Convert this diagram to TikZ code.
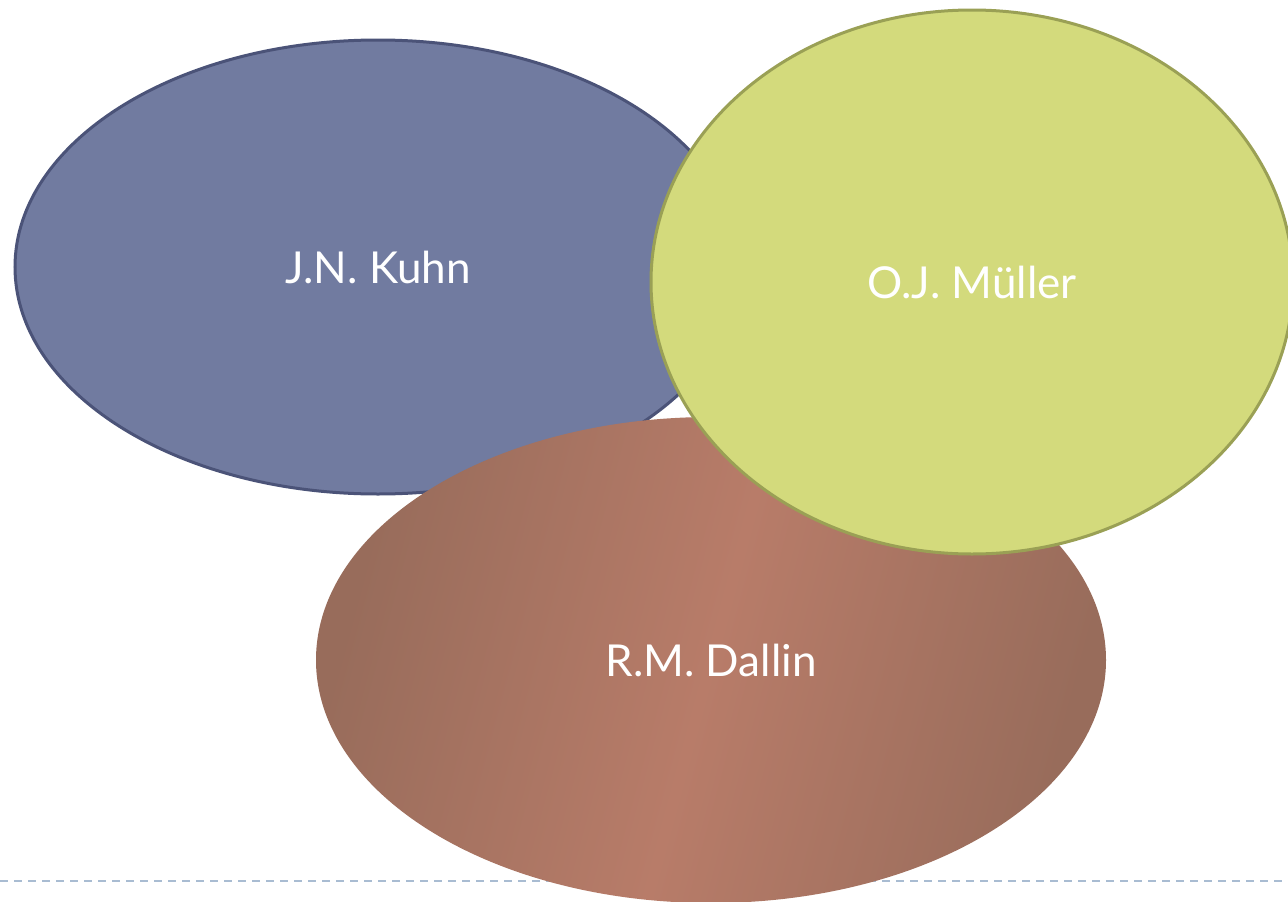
\documentclass[tikz,border=0pt]{standalone}
\usepackage{fontspec}
\setmainfont{Lato}
\usetikzlibrary{shapes.geometric}

\definecolor{kuhnfill}{RGB}{113,123,160}
\definecolor{kuhnline}{RGB}{75,83,120}
\definecolor{muellerfill}{RGB}{211,218,124}
\definecolor{muellerline}{RGB}{154,160,85}
\definecolor{dallinedge}{RGB}{152,108,91}
\definecolor{dallinmid}{RGB}{184,124,105}
\definecolor{footline}{RGB}{169,188,210}

\tikzset{every picture/.style={line width=0.75pt}}
\tikzset{
  person/.style={ellipse, inner sep=0pt, text=white, font=\fontsize{44}{52}\selectfont},
}

\begin{document}
\begin{tikzpicture}[x=1pt,y=1pt,yscale=-1,xscale=1]
\useasboundingbox (0,0) rectangle (1288,902);

% Dashed base line
\draw [color=footline, line width=2pt, dash pattern=on 8pt off 6pt] (0,881) -- (1288,881) ;

% Ellipse J.N. Kuhn
\node (kuhn) [person, draw=kuhnline, fill=kuhnfill, line width=3pt, minimum width=726, minimum height=454] at (378,267) {J.N. Kuhn};
% Ellipse R.M. Dallin
\node (dallin) [person, left color=dallinedge, right color=dallinedge, middle color=dallinmid, shading angle=75, minimum width=790, minimum height=486] at (711,660) {R.M. Dallin};
% Ellipse O.J. Müller
\node (mueller) [person, draw=muellerline, fill=muellerfill, line width=3pt, minimum width=642, minimum height=544] at (972,282) {O.J. Müller};

\end{tikzpicture}
\end{document}
